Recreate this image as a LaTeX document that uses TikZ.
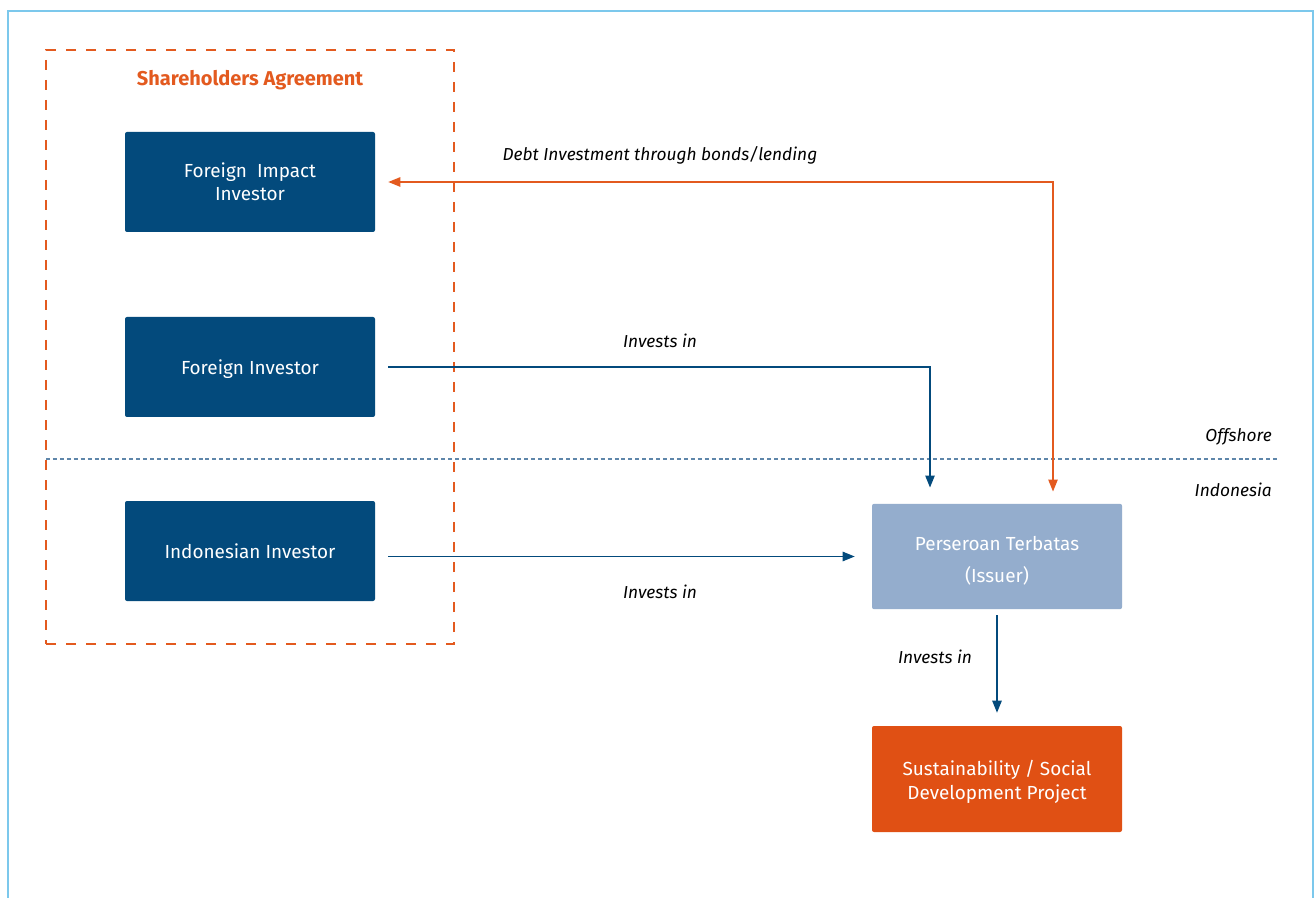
\documentclass[tikz,border=0pt]{standalone}
\usepackage{fontspec}
\setmainfont{Fira Sans}
\usetikzlibrary{arrows.meta}
\definecolor{navy}{HTML}{034A7C}
\definecolor{steel}{HTML}{94ADCD}
\definecolor{flame}{HTML}{E05014}
\definecolor{dashorange}{HTML}{E35A1F}
\definecolor{frame}{HTML}{7CC8EC}
\definecolor{divider}{HTML}{5E86AA}
\tikzset{
  entity/.style={rectangle, rounded corners=1.5pt, minimum width=187.5pt,
    align=center, text=white, font=\fontsize{14.2}{17.5}\selectfont, inner sep=0pt},
  darkbox/.style={entity, fill=navy, minimum height=75pt},
  flow/.style={line width=1.1pt, draw=navy, -{Triangle[length=9pt,width=7pt]}},
  debt/.style={line width=1.1pt, draw=dashorange,
    {Triangle[length=9pt,width=7pt]}-{Triangle[length=9pt,width=7pt]}},
  caption/.style={font=\fontsize{13}{17}\selectfont\itshape, text=black, inner sep=0pt},
}
\begin{document}
\begin{tikzpicture}[x=0.75pt, y=-0.75pt]
  % canvas
  \path[use as bounding box, fill=white] (0,0) rectangle (1314,898);
  \draw[frame, line width=1.2pt] (8,898) -- (8,11) -- (1313,11) -- (1313,898);

  % offshore / onshore divider
  \draw[divider, line width=0.8pt, dash pattern=on 3pt off 2.2pt] (46,459) -- (1277,459);
  \node[caption, anchor=base east] (offshore) at (1272,441) {Offshore};
  \node[caption, anchor=base east] (indonesia) at (1272,497) {Indonesia};

  % shareholders agreement group
  \node[draw=dashorange, line width=2.1pt, dash pattern=on 7.5pt off 7.5pt,
        minimum width=306pt, minimum height=445.5pt, inner sep=0pt] (sha) at (250,347) {};
  \node[font=\fontsize{15}{18}\selectfont\bfseries, text=dashorange] (shatitle) at (250,80) {Shareholders Agreement};

  % entities
  \node[darkbox] (fii) at (250,182) {Foreign~~Impact\\Investor};
  \node[darkbox, text depth=0pt] (fi) at (250,367) {Foreign Investor};
  \node[darkbox, text depth=0pt] (ii) at (250,551) {Indonesian Investor};
  \node[entity, fill=steel, minimum height=79pt] (pt) at (997,556.5)
    {\rule{0pt}{17pt}Perseroan Terbatas\\[7pt](Issuer)};
  \node[entity, fill=flame, minimum height=79.5pt] (sdp) at (997,779)
    {\rule{0pt}{16pt}Sustainability / Social\\Development Project};

  % connectors
  \draw[debt] ([xshift=9.75pt]fii.east) -| ([xshift=42pt,yshift=9pt]pt.north);
  \draw[flow] ([xshift=9.75pt]fi.east) -| ([xshift=-50.25pt,yshift=12pt]pt.north);
  \draw[flow] ([xshift=9.75pt]ii.east |- pt.west) -- ([xshift=-12.75pt]pt.west);
  \draw[flow] ([yshift=-4.5pt]pt.south) -- ([yshift=9.75pt]sdp.north);

  % connector captions
  \node[caption] (debtlbl) at (660,155) {Debt Investment through bonds/lending};
  \node[caption] (filbl) at (660,341) {Invests in};
  \node[caption] (iilbl) at (660,592) {Invests in};
  \node[caption] (ptlbl) at (935,657) {Invests in};
\end{tikzpicture}
\end{document}
